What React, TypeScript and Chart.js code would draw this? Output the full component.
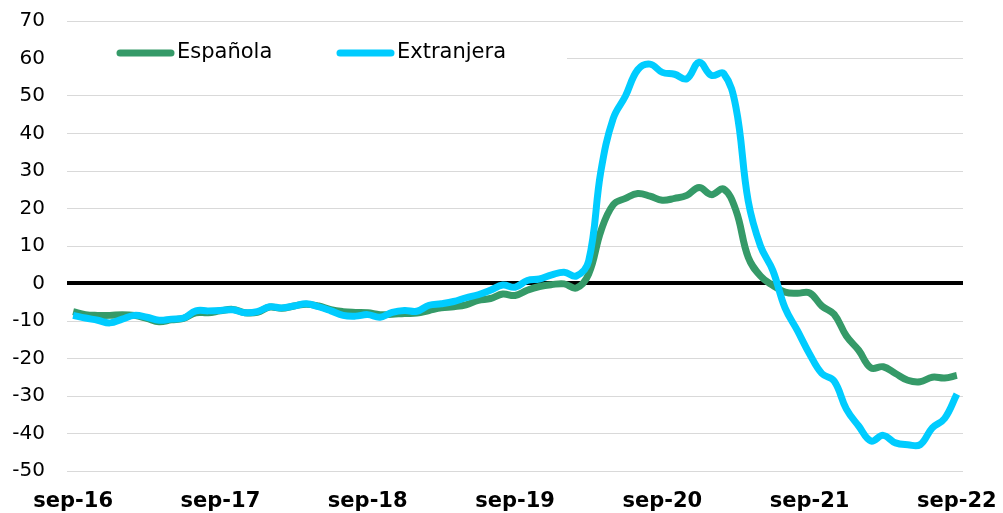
import React, { useEffect, useRef } from "react";
import { Chart, registerables } from "chart.js";

Chart.register(...registerables);

const months: string[] = [
  "sep-16", "oct-16", "nov-16", "dic-16", "ene-17", "feb-17", "mar-17", "abr-17", "may-17", "jun-17", "jul-17", "ago-17",
  "sep-17", "oct-17", "nov-17", "dic-17", "ene-18", "feb-18", "mar-18", "abr-18", "may-18", "jun-18", "jul-18", "ago-18",
  "sep-18", "oct-18", "nov-18", "dic-18", "ene-19", "feb-19", "mar-19", "abr-19", "may-19", "jun-19", "jul-19", "ago-19",
  "sep-19", "oct-19", "nov-19", "dic-19", "ene-20", "feb-20", "mar-20", "abr-20", "may-20", "jun-20", "jul-20", "ago-20",
  "sep-20", "oct-20", "nov-20", "dic-20", "ene-21", "feb-21", "mar-21", "abr-21", "may-21", "jun-21", "jul-21", "ago-21",
  "sep-21", "oct-21", "nov-21", "dic-21", "ene-22", "feb-22", "mar-22", "abr-22", "may-22", "jun-22", "jul-22", "ago-22",
  "sep-22",
];

const espanola: number[] = [
  -7.5, -8.3, -8.5, -8.5, -8.3, -8.5, -9.3, -10.2, -9.7, -9.3, -7.8, -7.8,
  -7.3, -6.9, -7.8, -7.7, -6.3, -6.6, -6.0, -5.5, -6.0, -7.0, -7.5, -7.7,
  -7.8, -8.3, -8.2, -8.0, -7.9, -7.2, -6.5, -6.2, -5.7, -4.5, -4.0, -2.8,
  -3.2, -1.8, -0.8, -0.3, -0.1, -1.2, 2.5, 14, 21, 22.7, 24, 23.3,
  22.2, 22.7, 23.5, 25.6, 23.7, 25.2, 19.5, 7, 2, -0.5, -2.3, -2.6,
  -2.5, -6, -8.2, -14, -17.8, -22.5, -22.2, -24, -25.8, -26.2, -25, -25.2, -24.5,
];

const extranjera: number[] = [
  -8.5, -9.2, -9.8, -10.5, -9.5, -8.5, -9.0, -9.8, -9.5, -9.2, -7.3, -7.3,
  -7.2, -7.0, -7.8, -7.5, -6.2, -6.5, -6.0, -5.4, -6.2, -7.3, -8.5, -8.7,
  -8.3, -9.0, -7.7, -7.2, -7.4, -5.8, -5.4, -4.8, -3.8, -3.0, -1.8, -0.4,
  -1.0, 0.8, 1.2, 2.3, 3.0, 2.0, 6, 30, 44, 50, 57, 58.5,
  56.3, 55.8, 54.6, 59, 55.5, 56, 47, 22, 10, 3.5, -6.5, -12.5,
  -18.8, -24, -26, -33.5, -38, -42, -40.5, -42.5, -43, -43, -38.5, -36, -29.5,
];

const seriesNames: string[] = ["Española", "Extranjera"];
const seriesColors: string[] = ["#359a68", "#00ccff"];

const FONT = "'DejaVu Sans', Verdana, sans-serif";

const legendPlugin = {
  id: "customLegend",
  beforeDatasetsDraw(chart: any) {
    const ctx = chart.ctx;
    ctx.save();
    ctx.fillStyle = "#ffffff";
    ctx.fillRect(66, 36, 501, 36);
    const items = [
      { x: 117, name: seriesNames[0], color: seriesColors[0] },
      { x: 337, name: seriesNames[1], color: seriesColors[1] },
    ];
    const y = 53;
    items.forEach((it) => {
      ctx.strokeStyle = it.color;
      ctx.lineWidth = 7;
      ctx.lineCap = "round";
      ctx.beginPath();
      ctx.moveTo(it.x + 3, y);
      ctx.lineTo(it.x + 54, y);
      ctx.stroke();
      ctx.fillStyle = "#000000";
      ctx.font = `21px ${FONT}`;
      ctx.textBaseline = "middle";
      ctx.textAlign = "left";
      ctx.fillText(it.name, it.x + 60, y);
    });
    ctx.restore();
  },
};

export default function App() {
  const canvasRef = useRef<HTMLCanvasElement | null>(null);

  useEffect(() => {
    if (!canvasRef.current) return;
    const chart = new Chart(canvasRef.current, {
      type: "line",
      data: {
        labels: months,
        datasets: [
          {
            label: seriesNames[0],
            data: espanola,
            borderColor: seriesColors[0],
            backgroundColor: seriesColors[0],
            borderWidth: 7,
            pointRadius: 0,
            tension: 0.4,
            order: 2,
          },
          {
            label: seriesNames[1],
            data: extranjera,
            borderColor: seriesColors[1],
            backgroundColor: seriesColors[1],
            borderWidth: 7,
            pointRadius: 0,
            tension: 0.4,
            order: 1,
          },
        ],
      },
      options: {
        animation: false,
        responsive: true,
        maintainAspectRatio: false,
        layout: { padding: { top: 21, right: 40, left: 0, bottom: 0 } },
        plugins: {
          legend: { display: false },
          tooltip: { enabled: false },
        },
        scales: {
          x: {
            offset: true,
            grid: { display: false, drawTicks: false },
            border: { display: false },
            ticks: {
              autoSkip: false,
              maxRotation: 0,
              minRotation: 0,
              padding: 18,
              color: "#000000",
              font: { family: FONT, size: 21, weight: "bold" },
              callback: (_v: any, i: number) => (i % 12 === 0 ? months[i] : ""),
            },
            afterFit: (scale: any) => {
              scale.height = 42;
              scale.paddingLeft = 0;
              scale.paddingRight = 0;
              scale.paddingTop = 0;
              scale.paddingBottom = 0;
            },
          },
          y: {
            min: -50,
            max: 70,
            border: { display: false },
            grid: {
              drawTicks: false,
              color: (c: any) => (c.tick && c.tick.value === 0 ? "#000000" : "#d9d9d9"),
              lineWidth: (c: any) => (c.tick && c.tick.value === 0 ? 4 : 1),
            },
            ticks: {
              stepSize: 10,
              padding: 22,
              color: "#000000",
              font: { family: FONT, size: 20 },
            },
            afterFit: (scale: any) => {
              scale.width = 67;
              scale.paddingLeft = 0;
              scale.paddingRight = 0;
              scale.paddingTop = 0;
              scale.paddingBottom = 0;
            },
          },
        },
      },
      plugins: [legendPlugin],
    });
    return () => chart.destroy();
  }, []);

  return (
    <div style={{ position: "fixed", left: 0, top: 0, width: 1003, height: 513, background: "#fff" }}>
      <canvas ref={canvasRef} style={{ display: "block" }} />
    </div>
  );
}
